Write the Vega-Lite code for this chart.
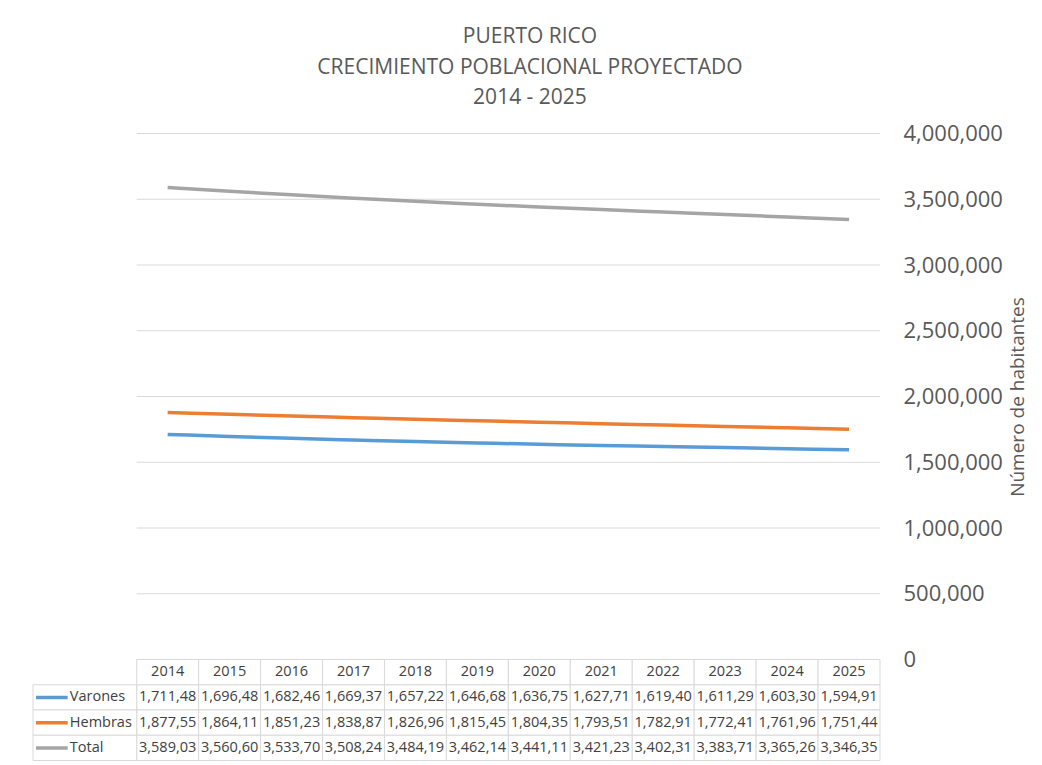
{
  "$schema": "https://vega.github.io/schema/vega-lite/v6.json",
  "autosize": {"type": "pad"},
  "padding": {"left": 32, "top": 25.5, "right": 8, "bottom": 3},
  "background": "white",
  "config": {"view": {"stroke": null}, "font": "Open Sans"},
  "title": {
    "text": ["PUERTO RICO", "CRECIMIENTO POBLACIONAL PROYECTADO", "2014 - 2025"],
    "fontSize": 21, "fontWeight": "normal", "color": "#595959", "lineHeight": 30.5,
    "anchor": "middle", "frame": "bounds", "offset": 14.5, "font": "Open Sans"
  },
  "bounds": "flush",
  "spacing": 0,
  "datasets": {
    "ticks": [{"v": 0}, {"v": 500000}, {"v": 1000000}, {"v": 1500000}, {"v": 2000000}, {"v": 2500000}, {"v": 3000000}, {"v": 3500000}, {"v": 4000000}],
    "pop": [
      {"serie": "Varones", "year": 2014, "value": 1711485},
      {"serie": "Varones", "year": 2015, "value": 1696485},
      {"serie": "Varones", "year": 2016, "value": 1682465},
      {"serie": "Varones", "year": 2017, "value": 1669375},
      {"serie": "Varones", "year": 2018, "value": 1657225},
      {"serie": "Varones", "year": 2019, "value": 1646685},
      {"serie": "Varones", "year": 2020, "value": 1636755},
      {"serie": "Varones", "year": 2021, "value": 1627715},
      {"serie": "Varones", "year": 2022, "value": 1619405},
      {"serie": "Varones", "year": 2023, "value": 1611295},
      {"serie": "Varones", "year": 2024, "value": 1603305},
      {"serie": "Varones", "year": 2025, "value": 1594915},
      {"serie": "Hembras", "year": 2014, "value": 1877555},
      {"serie": "Hembras", "year": 2015, "value": 1864115},
      {"serie": "Hembras", "year": 2016, "value": 1851235},
      {"serie": "Hembras", "year": 2017, "value": 1838875},
      {"serie": "Hembras", "year": 2018, "value": 1826965},
      {"serie": "Hembras", "year": 2019, "value": 1815455},
      {"serie": "Hembras", "year": 2020, "value": 1804355},
      {"serie": "Hembras", "year": 2021, "value": 1793515},
      {"serie": "Hembras", "year": 2022, "value": 1782915},
      {"serie": "Hembras", "year": 2023, "value": 1772415},
      {"serie": "Hembras", "year": 2024, "value": 1761965},
      {"serie": "Hembras", "year": 2025, "value": 1751445},
      {"serie": "Total", "year": 2014, "value": 3589035},
      {"serie": "Total", "year": 2015, "value": 3560605},
      {"serie": "Total", "year": 2016, "value": 3533705},
      {"serie": "Total", "year": 2017, "value": 3508245},
      {"serie": "Total", "year": 2018, "value": 3484195},
      {"serie": "Total", "year": 2019, "value": 3462145},
      {"serie": "Total", "year": 2020, "value": 3441115},
      {"serie": "Total", "year": 2021, "value": 3421235},
      {"serie": "Total", "year": 2022, "value": 3402315},
      {"serie": "Total", "year": 2023, "value": 3383715},
      {"serie": "Total", "year": 2024, "value": 3365265},
      {"serie": "Total", "year": 2025, "value": 3346355}
    ]
  },
  "vconcat": [
    {
      "width": 847,
      "height": 526,
      "layer": [
        {
          "data": {"name": "ticks"},
          "mark": {"type": "rule", "color": "#d9d9d9", "strokeWidth": 1},
          "encoding": {
            "y": {"field": "v", "type": "quantitative"},
            "x": {"datum": 2013.5, "type": "quantitative", "axis": null},
            "x2": {"datum": 2025.5}
          }
        },
        {
          "data": {"name": "pop"},
          "mark": {"type": "line", "strokeWidth": 3.5, "interpolate": "monotone"},
          "encoding": {
            "x": {"field": "year", "type": "quantitative", "scale": {"domain": [2011.826, 2025.5], "nice": false, "zero": false}, "axis": null},
            "y": {
              "field": "value", "type": "quantitative",
              "scale": {"domain": [0, 4000000], "nice": false},
              "axis": {
                "orient": "right", "title": "Número de habitantes",
                "values": [0, 500000, 1000000, 1500000, 2000000, 2500000, 3000000, 3500000, 4000000],
                "format": ",d", "grid": false, "domain": false, "ticks": false,
                "labelPadding": 23, "labelFontSize": 22, "labelColor": "#595959", "labelFont": "Open Sans",
                "titleFontSize": 19, "titleFontWeight": "normal", "titleColor": "#595959", "titleFont": "Open Sans",
                "titlePadding": 6, "titleAngle": 270, "titleBaseline": "top"
              }
            },
            "color": {"field": "serie", "type": "nominal", "scale": {"domain": ["Varones", "Hembras", "Total"], "range": ["#5B9BD5", "#ED7D31", "#A5A5A5"]}, "legend": null}
          }
        }
      ]
    },
    {
      "width": 847,
      "height": 101,
      "data": {"name": "pop"},
      "transform": [
        {"calculate": "substring(format(datum.value, ','), 0, 8)", "as": "label"},
        {"calculate": "datum.year - 0.5", "as": "x0"},
        {"calculate": "datum.year + 0.5", "as": "x1"}
      ],
      "layer": [
        {
          "mark": {"type": "rect", "fill": "white", "stroke": "#d9d9d9", "strokeWidth": 1},
          "encoding": {
            "x": {"field": "x0", "type": "quantitative", "scale": {"domain": [2011.826, 2025.5], "nice": false, "zero": false}, "axis": null},
            "x2": {"field": "x1"},
            "y": {"field": "serie", "type": "nominal", "scale": {"domain": ["header", "Varones", "Hembras", "Total"], "paddingInner": 0, "paddingOuter": 0}, "axis": null}
          }
        },
        {
          "transform": [{"filter": "datum.serie == 'Varones'"}],
          "mark": {"type": "rect", "fill": "white", "stroke": "#d9d9d9", "strokeWidth": 1},
          "encoding": {
            "x": {"field": "x0", "type": "quantitative", "axis": null},
            "x2": {"field": "x1"},
            "y": {"datum": "header", "type": "nominal", "axis": null}
          }
        },
        {
          "transform": [{"filter": "datum.year == 2014"}],
          "mark": {"type": "rect", "fill": "white", "stroke": "#d9d9d9", "strokeWidth": 1},
          "encoding": {
            "x": {"datum": 2011.826, "type": "quantitative", "axis": null},
            "x2": {"datum": 2013.5},
            "y": {"field": "serie", "type": "nominal", "axis": null}
          }
        },
        {
          "transform": [{"filter": "datum.serie == 'Varones'"}],
          "mark": {"type": "text", "fontSize": 14.5, "color": "#404040", "align": "center", "baseline": "middle"},
          "encoding": {
            "x": {"field": "year", "type": "quantitative", "axis": null},
            "y": {"datum": "header", "type": "nominal", "axis": null},
            "text": {"field": "year", "type": "quantitative", "format": "d"}
          }
        },
        {
          "mark": {"type": "text", "fontSize": 14.5, "color": "#404040", "align": "center", "baseline": "middle"},
          "encoding": {
            "x": {"field": "year", "type": "quantitative", "axis": null},
            "y": {"field": "serie", "type": "nominal", "axis": null},
            "text": {"field": "label", "type": "nominal"}
          }
        },
        {
          "transform": [{"filter": "datum.year == 2014"}],
          "mark": {"type": "rule", "strokeWidth": 3.5},
          "encoding": {
            "x": {"datum": 2011.874, "type": "quantitative", "axis": null},
            "x2": {"datum": 2012.386},
            "y": {"field": "serie", "type": "nominal", "axis": null},
            "color": {"field": "serie", "type": "nominal", "scale": {"domain": ["Varones", "Hembras", "Total"], "range": ["#5B9BD5", "#ED7D31", "#A5A5A5"]}, "legend": null}
          }
        },
        {
          "transform": [{"filter": "datum.year == 2014"}],
          "mark": {"type": "text", "fontSize": 14.5, "color": "#404040", "align": "left", "baseline": "middle"},
          "encoding": {
            "x": {"datum": 2012.42, "type": "quantitative", "axis": null},
            "y": {"field": "serie", "type": "nominal", "axis": null},
            "text": {"field": "serie", "type": "nominal"}
          }
        }
      ]
    }
  ]
}
